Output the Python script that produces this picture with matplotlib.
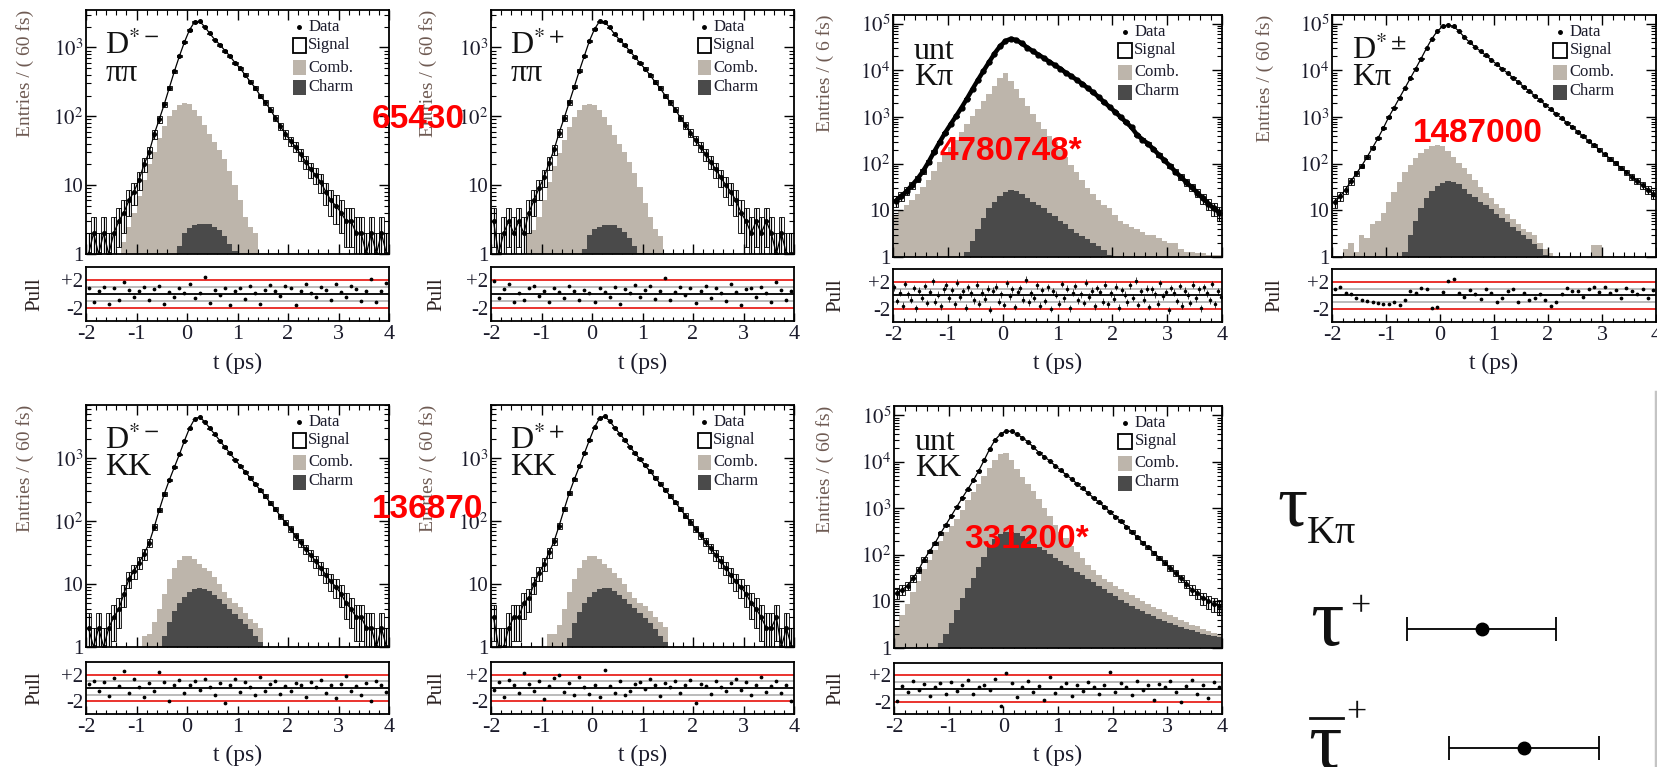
import numpy as np
import matplotlib
matplotlib.use('Agg')
from matplotlib import pyplot as plt
from matplotlib.lines import Line2D
from matplotlib.patches import Rectangle
from matplotlib.ticker import MultipleLocator, LogLocator, NullFormatter

plt.rcParams['font.family'] = ['Liberation Serif', 'DejaVu Serif']
plt.rcParams['mathtext.fontset'] = 'stix'

W, H = 1657, 767
COMB = '#bdb5ab'
CHARM = '#4a4a4a'
TXT = '#1c1c2c'
RED = '#e8231e'

# 60 bins of 0.1 ps between -2 and 4 ps
edges = np.linspace(-2, 4, 61)
mid = 0.5 * (edges[1:] + edges[:-1])

# ---- D*- pipi
dm_pipi_data = [1, 2, 1, 2, 1, 2, 3, 4, 6, 8,
                12, 20, 30, 55, 90, 150, 260, 450, 750, 1200,
                1800, 2350, 2400, 2000, 1600, 1300, 1100, 900, 750, 600,
                500, 400, 320, 260, 200, 160, 125, 95, 72, 55,
                44, 36, 28, 22, 17, 14, 11, 8, 6, 5,
                4, 3, 3, 2, 2, 1, 2, 1, 2, 1]
dm_pipi_comb = [0, 0, 0, 0, 0, 0, 0, 1.5, 2.5, 4,
                7, 12, 20, 30, 48, 72, 100, 125, 145, 155,
                150, 125, 100, 75, 55, 42, 32, 24, 16, 10,
                6, 3.5, 2.5, 2, 0, 0, 0, 0, 0, 0,
                0, 0, 0, 0, 0, 0, 0, 0, 0, 0,
                0, 0, 0, 0, 0, 0, 0, 0, 0, 0]
dm_pipi_charm = [0, 0, 0, 0, 0, 0, 0, 0, 0, 0,
                 0, 0, 0, 0, 0, 0, 0, 0, 1.3, 2.0,
                 2.4, 2.6, 2.7, 2.7, 2.7, 2.5, 2.2, 1.8, 1.4, 1.1,
                 0, 0, 0, 0, 0, 0, 0, 0, 0, 0,
                 0, 0, 0, 0, 0, 0, 0, 0, 0, 0,
                 0, 0, 0, 0, 0, 0, 0, 0, 0, 0]
dm_pipi_pull = [0.8, -1.2, 0.5, 1.0, -1.5, 0.9, -0.8, 1.8, 0.6, -0.5,
                0.4, 1.0, -0.9, 0.7, 1.2, -1.5, 0.3, -0.4, 0.9, 0.2,
                1.5, -0.6, 0.1, 2.4, -1.3, 0.6, -0.2, 0.9, -1.6, 0.4,
                0.8, -0.7, 1.1, 0.2, -1.4, 0.6, 1.3, 0.5, -0.3, 1.2,
                0.8, -1.6, 0.4, 1.5, 0.2, -0.5, 1.0, 0.6, -0.9, 1.4,
                0.3, -0.4, 1.1, 0.7, -1.0, 0.5, 2.1, -1.2, 0.4, 1.6]

# ---- D*+ pipi
dp_pipi_data = [3, 1, 2, 3, 2, 3, 2, 4, 6, 9,
                13, 21, 33, 58, 95, 160, 270, 460, 760, 1250,
                1850, 2400, 2350, 1950, 1550, 1280, 1080, 880, 730, 590,
                490, 395, 315, 255, 200, 160, 125, 96, 74, 57,
                45, 36, 28, 22, 17, 13, 10, 8, 6, 4,
                3, 2, 3, 2, 3, 2, 1, 2, 1, 1]
dp_pipi_comb = [0, 0, 0, 0, 0, 0, 0, 2, 2.2, 3.5,
                6, 11, 19, 29, 46, 70, 98, 124, 146, 152,
                148, 124, 98, 74, 54, 40, 30, 22, 15, 9.5,
                5.5, 3.5, 2.3, 1.8, 0, 0, 0, 0, 0, 0,
                0, 0, 0, 0, 0, 0, 0, 0, 0, 0,
                0, 0, 0, 0, 0, 0, 0, 0, 0, 0]
dp_pipi_charm = [0, 0, 0, 0, 0, 0, 0, 0, 0, 0,
                 0, 0, 0, 0, 0, 0, 0, 0, 1.2, 1.9,
                 2.3, 2.5, 2.6, 2.6, 2.6, 2.4, 2.1, 1.7, 1.3, 1.05,
                 0, 0, 0, 0, 0, 0, 0, 0, 0, 0,
                 0, 0, 0, 0, 0, 0, 0, 0, 0, 0,
                 0, 0, 0, 0, 0, 0, 0, 0, 0, 0]
dp_pipi_pull = [1.9, -0.6, 0.7, 1.4, -1.1, 0.2, -0.9, 0.8, 1.2, -0.3,
                0.5, -1.2, 0.9, 0.3, -0.6, 1.1, 0.4, -0.8, 0.6, 0.2,
                -1.1, 0.9, 0.3, -0.5, 1.0, -1.4, 0.7, 0.2, 1.3, -0.4,
                0.6, 1.1, -0.7, 0.4, 2.3, -0.9, 0.3, 1.0, -0.2, 0.8,
                -1.3, 0.5, 1.2, -0.6, 0.9, 0.1, -1.0, 1.4, 0.3, -1.6,
                0.7, 0.9, -0.5, 1.0, 0.2, -1.2, 1.8, 0.6, -0.8, 0.4]

# ---- untagged Kpi
unt_kpi_data = [16, 20, 26, 35, 48, 70, 110, 180, 290, 460,
                700, 1050, 1600, 2500, 4000, 6300, 9800, 15000, 23000, 33000,
                43000, 48000, 45000, 38000, 31000, 26000, 22000, 18500, 15500, 13000,
                11000, 9000, 7600, 6300, 5200, 4200, 3400, 2700, 2100, 1650,
                1300, 1000, 780, 600, 420, 330, 270, 205, 155, 118,
                90, 68, 52, 40, 31, 24, 18, 14, 11, 9]
unt_kpi_comb = [8, 10, 13, 17, 23, 32, 45, 70, 110, 160,
                230, 330, 480, 700, 1050, 1500, 2200, 3200, 4700, 7000,
                8800, 6000, 4000, 2600, 1700, 1150, 800, 560, 400, 290,
                200, 140, 95, 65, 45, 30, 22, 17, 13, 11,
                8, 6, 5, 4.5, 4, 3.5, 3, 3, 2.5, 2.2,
                2, 2, 1.5, 1.3, 1.3, 1.2, 1.2, 1.1, 1.1, 1.1]
unt_kpi_charm = [0, 0, 0, 0, 0, 0, 0, 0, 0, 0,
                 0, 0, 0, 1.3, 2.2, 4, 7, 11, 15, 20,
                 25, 27, 26, 22, 18, 15, 13, 11, 9, 7.5,
                 6, 5, 4, 3.3, 2.8, 2.4, 2, 1.7, 1.4, 1.1,
                 0, 0, 0, 0, 0, 0, 0, 0, 0, 0,
                 0, 0, 0, 0, 0, 0, 0, 0, 0, 0]
unt_kpi_pull = [1.2, -0.8, 0.4, -1.5, 1.7, 0.2, -0.6, 1.1, -1.9, 0.7,
                -0.3, 1.4, -1.1, 0.5, 2.1, -0.9, 0.1, -1.6, 0.9, 1.5,
                -0.4, 0.8, -1.3, 1.9, -0.2, 0.6, -1.8, 1.2, 0.3, -0.7,
                1.6, -1.2, 0.4, -0.5, 1.0, -2.1, 0.7, 1.3, -0.9, 0.2,
                -1.4, 1.8, -0.1, 0.9, -1.7, 0.5, 1.1, -0.6, 2.3, -1.0,
                0.3, -0.3, 1.5, -1.5, 0.8, -0.8, 1.2, -2.0, 0.6, 0.1,
                -1.2, 1.7, -0.4, 1.0, -1.9, 0.4, 1.4, -0.7, 0.2, -1.1,
                1.9, -0.2, 0.7, -1.6, 1.1, 0.5, -0.9, 1.6, -1.3, 0.3,
                -0.5, 1.3, -1.8, 0.8, 0.1, -1.0, 1.5, -0.3, 2.2, -1.4,
                0.6, -0.6, 1.0, -1.7, 0.9, 0.2, -1.2, 1.8, -0.1, 0.5,
                -2.2, 1.1, 0.4, -0.8, 1.4, -1.5, 0.7, 0.0, -1.1, 1.6,
                -0.4, 0.9, -1.9, 1.2, 0.3, -0.7, 1.7, -1.3, 0.6, -0.2]

# ---- D*+- Kpi
dpm_kpi_data = [15, 20, 28, 42, 62, 90, 140, 220, 350, 580,
                1000, 1600, 2600, 4200, 6800, 11000, 18000, 30000, 48000, 70000,
                88000, 96000, 88000, 70000, 52000, 40000, 32000, 26000, 21000, 17000,
                13500, 11000, 8800, 7000, 5600, 4500, 3600, 2900, 2300, 1850,
                1480, 1180, 950, 760, 610, 490, 390, 310, 250, 200,
                160, 128, 102, 82, 66, 53, 43, 35, 28, 22]
dpm_kpi_comb = [0, 0, 1.5, 2, 1.3, 3, 2.5, 5, 6, 9,
                15, 25, 40, 65, 95, 130, 170, 210, 240, 255,
                240, 190, 140, 105, 80, 60, 45, 32, 24, 18,
                14, 11, 8.5, 6.5, 5, 4, 3.5, 3, 2, 1.5,
                1.2, 0, 0, 0, 0, 0, 0, 0, 1.8, 1.8,
                0, 0, 0, 0, 0, 0, 0, 0, 0, 0]
dpm_kpi_charm = [0, 0, 0, 0, 0, 0, 0, 0, 0, 0,
                 0, 0, 0, 1.3, 3, 6, 11, 18, 26, 33,
                 39, 42, 41, 36, 29, 23, 19, 15.5, 13, 10.5,
                 8.5, 7, 5.5, 4.5, 3.7, 3, 2.4, 1.9, 1.5, 1.1,
                 0, 0, 0, 0, 0, 0, 0, 0, 0, 0,
                 0, 0, 0, 0, 0, 0, 0, 0, 0, 0]
dpm_kpi_pull = [1.0, 1.2, 0.4, 0.2, -0.3, -0.6, -0.8, -1.0, -1.1, -1.3,
                -1.2, -0.9, -1.4, -0.7, 0.6, 0.4, 1.1, 0.9, -1.8, -1.7,
                0.5, 2.2, 2.4, 0.3, -0.2, 0.8, 0.2, -0.5, 0.9, 0.4,
                -0.9, -0.4, 0.6, 1.0, -1.0, 0.3, -0.6, -0.3, 0.2, -0.7,
                -1.6, -0.9, 0.2, 1.1, 0.6, 0.7, -0.2, 0.9, 1.3, 0.5,
                1.2, 0.3, 0.8, -0.3, 1.1, 0.6, 0.2, 1.0, -0.4, 0.8]

# ---- D*- KK
dm_kk_data = [2, 1, 2, 1, 2, 3, 4, 7, 12, 16,
              22, 30, 45, 80, 150, 270, 450, 720, 1150, 1900,
              3000, 4200, 4500, 3800, 3000, 2400, 1900, 1500, 1200, 950,
              760, 610, 490, 390, 310, 250, 195, 155, 120, 95,
              75, 58, 46, 36, 29, 23, 18, 14, 11, 9,
              7, 5, 4, 3, 3, 2, 2, 1, 2, 1]
dm_kk_comb = [0, 0, 0, 0, 0, 0, 0, 0, 0, 0,
              0, 1.5, 1.6, 2.5, 4, 7, 12, 18, 24, 28,
              28, 25, 21, 18, 16, 13, 10, 7.5, 6, 5,
              4.3, 3.5, 2.8, 2.4, 2.0, 0, 0, 0, 0, 0,
              0, 0, 0, 0, 0, 0, 0, 0, 0, 0,
              0, 0, 0, 0, 0, 0, 0, 0, 0, 0]
dm_kk_charm = [0, 0, 0, 0, 0, 0, 0, 0, 0, 0,
               0, 0, 0, 0, 0, 1.5, 2.5, 3.7, 5, 6.3,
               7.5, 8.3, 8.7, 8.5, 7.7, 6.7, 5.7, 4.8, 4, 3.4,
               2.8, 2.3, 1.9, 1.5, 1.2, 0, 0, 0, 0, 0,
               0, 0, 0, 0, 0, 0, 0, 0, 0, 0,
               0, 0, 0, 0, 0, 0, 0, 0, 0, 0]
dm_kk_pull = [0.6, 1.1, -0.4, 0.9, -1.2, 1.5, 0.3, 2.6, -0.7, 1.3,
              0.2, -1.4, 0.8, -0.5, 2.4, 0.9, -1.9, 0.4, 1.2, -0.8,
              0.5, 1.0, -0.3, 1.4, 0.1, -1.1, 0.7, -2.3, 0.4, 1.3,
              -0.6, 0.9, 0.2, -1.0, 1.6, -0.4, 0.6, 1.1, -0.9, 0.3,
              -0.5, 0.8, 0.4, -1.3, 0.9, 0.2, 1.2, -0.7, 0.5, -1.5,
              0.6, 1.8, -0.4, 0.3, -1.1, 0.7, -2.0, 1.0, 0.5, -0.6]

# ---- D*+ KK
dp_kk_data = [3, 1, 1, 2, 3, 3, 5, 6, 10, 15,
              21, 32, 48, 85, 155, 280, 460, 740, 1200, 1950,
              3100, 4300, 4600, 3900, 3050, 2450, 1950, 1520, 1210, 960,
              770, 615, 490, 395, 315, 250, 198, 157, 122, 97,
              76, 60, 47, 37, 29, 23, 18, 14, 11, 9,
              7, 5, 4, 3, 2, 2, 3, 1, 2, 1]
dp_kk_comb = [0, 0, 0, 0, 0, 0, 0, 0, 0, 0,
              0, 1.6, 1.6, 2.2, 4, 7.5, 12, 18, 24, 28,
              28, 25, 21, 18, 15, 12.5, 10, 7.5, 6, 5,
              4.5, 3.8, 3, 2.5, 2.1, 0, 0, 0, 0, 0,
              0, 0, 0, 0, 0, 0, 0, 0, 0, 0,
              0, 0, 0, 0, 0, 0, 0, 0, 0, 0]
dp_kk_charm = [0, 0, 0, 0, 0, 0, 0, 0, 0, 0,
               0, 0, 0, 0, 0, 1.4, 2.4, 3.6, 5, 6.3,
               7.5, 8.4, 8.8, 8.6, 7.8, 6.8, 5.8, 4.9, 4.1, 3.5,
               2.9, 2.4, 1.9, 1.5, 1.2, 0, 0, 0, 0, 0,
               0, 0, 0, 0, 0, 0, 0, 0, 0, 0,
               0, 0, 0, 0, 0, 0, 0, 0, 0, 0]
dp_kk_pull = [-0.3, 0.9, -1.3, 1.2, 0.4, -0.8, 2.3, 0.6, -0.4, 1.0,
              -1.7, 0.3, 1.5, 2.0, -0.6, 0.8, -1.1, 1.7, 0.2, -0.9,
              0.5, -1.4, 2.7, 0.3, -0.7, 1.1, -1.0, -0.4, 0.6, 0.9,
              -0.2, 1.3, 0.4, -1.2, 0.7, 0.1, 1.0, -0.8, 0.5, 1.2,
              -2.2, 0.6, 0.3, -0.9, 1.1, 0.2, -0.5, 0.8, 1.4, -0.3,
              0.9, -1.1, 0.4, 1.6, -0.6, 0.3, 1.0, -0.8, 0.5, -1.9]

# ---- untagged KK
unt_kk_data = [15, 18, 22, 32, 48, 80, 120, 180, 290, 450,
               700, 1100, 1700, 2600, 4000, 6500, 11000, 19000, 30000, 40000,
               46000, 46000, 40000, 33000, 27000, 21000, 16000, 13000, 10500, 8300,
               6600, 5300, 4300, 3400, 2700, 2150, 1700, 1350, 1080, 850,
               670, 530, 410, 320, 240, 185, 145, 112, 88, 68,
               53, 41, 32, 24, 18, 15, 12, 10, 9, 8]
unt_kk_comb = [3, 5, 9, 16, 28, 50, 80, 130, 200, 310,
               420, 600, 950, 1500, 2300, 3400, 5000, 7500, 11000, 15000,
               15500, 11000, 7000, 4800, 3300, 2400, 1600, 1000, 700, 450,
               320, 230, 160, 115, 85, 62, 48, 38, 31, 26,
               22, 19, 16, 14, 12, 10.5, 9, 7.8, 6.8, 6,
               5.2, 4.6, 4, 3.6, 3.2, 2.9, 2.6, 2.3, 2.1, 1.9]
unt_kk_charm = [0, 0, 0, 0, 0, 0, 0, 0, 1.3, 2,
                3.5, 6.5, 12, 20, 32, 55, 90, 150, 220, 280,
                310, 315, 290, 250, 210, 175, 150, 125, 105, 88,
                74, 62, 52, 44, 37, 31, 26, 22, 18.5, 15.5,
                13, 11, 9.5, 8.2, 7, 6.2, 5.5, 4.9, 4.3, 3.9,
                3.5, 3.1, 2.8, 2.6, 2.4, 2.2, 2.0, 1.9, 1.8, 1.7]
unt_kk_pull = [-1.9, 0.4, -0.6, 1.1, -0.3, 0.7, -1.2, 0.2, 0.9, -0.8,
               1.0, -0.4, 0.5, 1.3, -0.9, 0.3, 0.6, -0.2, 1.5, -2.6,
               2.4, 0.8, -1.3, 0.2, 1.2, -0.5, 0.4, -1.8, 1.7, -0.7,
               0.3, 0.9, -1.1, 0.5, -0.4, 1.0, 0.2, -0.9, 0.6, 2.5,
               -0.6, 0.8, 0.3, -1.0, 1.1, -0.3, 0.5, -1.7, 0.7, 0.2,
               1.2, -0.5, -2.0, 0.4, 1.3, -0.8, 0.6, -1.4, 1.0, 0.3]

# lifetime summary (fs)
tau_names = ['tau+', 'taubar+']
tau_vals = [410.32, 410.72]
tau_errs = [0.715, 0.72]

# red yields written over the figure
yield_texts = ['65430', '4780748*', '1487000', '136870', '331200*']


fig = plt.figure(figsize=(W / 100, H / 100), dpi=100)


def box(x0, y0, x1, y1):
    return [x0 / W, 1 - y1 / H, (x1 - x0) / W, (y1 - y0) / H]


def legend(ax):
    tr = ax.transAxes
    ax.plot([0.704], [0.93], 'k.', ms=5, transform=tr)
    ax.add_patch(Rectangle((0.683, 0.823), 0.043, 0.062, fill=False, ec='k', lw=1.3, transform=tr))
    ax.add_patch(Rectangle((0.683, 0.733), 0.043, 0.062, fc=COMB, ec='none', transform=tr))
    ax.add_patch(Rectangle((0.683, 0.650), 0.043, 0.062, fc=CHARM, ec='none', transform=tr))
    for lab, y in zip(['Data', 'Signal', 'Comb.', 'Charm'], [0.93, 0.857, 0.764, 0.684]):
        ax.text(0.733, y, lab, fontsize=12, va='center', color=TXT, transform=tr)


def panel(main, pull_box, name1, name2, data, comb, charm, pull, ytop, thick=False):
    ax = fig.add_axes(box(*main))
    ax.set_yscale('log')
    ax.stairs(np.clip(comb, 1e-2, None), edges, fill=True, color=COMB, baseline=1e-2, zorder=1)
    ax.stairs(np.clip(charm, 1e-2, None), edges, fill=True, color=CHARM, baseline=1e-2, zorder=2)

    d = np.asarray(data, float)
    err = np.sqrt(d)
    lo = np.maximum(d - err, 0.3)
    hi = d + err
    ax.bar(mid, hi - lo, bottom=lo, width=0.1, fill=False, edgecolor='k', linewidth=0.6, zorder=3)
    ax.plot(mid, d, color='k', lw=3.2 if thick else 0.9, zorder=4)
    ax.errorbar(mid, d, yerr=[d - lo, err], fmt='o', ms=3.5 if thick else 2.6, color='k',
                elinewidth=0.9, capsize=0, zorder=5)

    ax.set_xlim(-2, 4)
    ax.set_ylim(1, ytop)
    ax.xaxis.set_major_locator(MultipleLocator(1))
    ax.xaxis.set_minor_locator(MultipleLocator(0.2))
    decs = [10 ** k for k in range(0, 6) if 10 ** k <= ytop]
    labs = ['1', '10'] + ['$10^{%d}$' % k for k in range(2, len(decs))]
    ax.set_yticks(decs)
    ax.set_yticklabels(labs[:len(decs)], fontsize=15, color=TXT)
    ax.yaxis.set_minor_locator(LogLocator(base=10, subs=np.arange(2, 10)))
    ax.yaxis.set_minor_formatter(NullFormatter())
    ax.tick_params(which='both', direction='in', top=True, right=True, labelbottom=False, pad=2)
    ax.tick_params(which='major', length=7, width=1)
    ax.tick_params(which='minor', length=3.5, width=0.8)
    for s in ax.spines.values():
        s.set_linewidth(1.3)

    ax.text(0.063, 0.82, name1, fontsize=23, color='#111', transform=ax.transAxes)
    ax.text(0.063, 0.71, name2, fontsize=23, color='#111', transform=ax.transAxes)
    legend(ax)

    axp = fig.add_axes(box(*pull_box))
    axp.axhline(2, color=RED, lw=1.3)
    axp.axhline(-2, color=RED, lw=1.3)
    axp.axhline(1, color='#a8a8a8', lw=1.1)
    axp.axhline(-1, color='#a8a8a8', lw=1.1)
    axp.axhline(0, color='k', lw=1.3)
    pe = np.linspace(-2, 4, len(pull) + 1)
    xp = 0.5 * (pe[1:] + pe[:-1])
    if thick:
        axp.errorbar(xp, pull, yerr=0.5, fmt='.', ms=3, color='k', elinewidth=0.5, capsize=0)
    else:
        axp.plot(xp, pull, 'k.', ms=3.4)
    axp.set_xlim(-2, 4)
    axp.set_ylim(-3.9, 3.9)
    axp.xaxis.set_minor_locator(MultipleLocator(0.2))
    axp.set_xticks(np.arange(-2, 5))
    axp.set_xticklabels([str(v) for v in range(-2, 5)], fontsize=16, color=TXT)
    axp.set_yticks([-2, 2])
    axp.set_yticklabels(['-2', '+2'], fontsize=15, color=TXT)
    axp.tick_params(axis='x', which='both', direction='in', top=False, pad=3)
    axp.tick_params(axis='x', which='major', length=6, width=1)
    axp.tick_params(axis='x', which='minor', length=3, width=0.8)
    axp.tick_params(axis='y', length=0, pad=2)
    for s in axp.spines.values():
        s.set_linewidth(1.3)
    return ax, axp


specs = [
    ((86, 10, 389, 254), (86, 267, 389, 321), 'D$^{*-}$', 'ππ',
     dm_pipi_data, dm_pipi_comb, dm_pipi_charm, dm_pipi_pull, 3500, False),
    ((491, 10, 794, 254), (491, 267, 794, 321), 'D$^{*+}$', 'ππ',
     dp_pipi_data, dp_pipi_comb, dp_pipi_charm, dp_pipi_pull, 3500, False),
    ((893, 15, 1222, 257), (893, 269, 1222, 322), 'unt', 'Kπ',
     unt_kpi_data, unt_kpi_comb, unt_kpi_charm, unt_kpi_pull, 155000, True),
    ((1332, 15, 1656, 257), (1332, 269, 1656, 322), r'D$^{*\pm}$', 'Kπ',
     dpm_kpi_data, dpm_kpi_comb, dpm_kpi_charm, dpm_kpi_pull, 155000, False),
    ((86, 405, 389, 647), (86, 662, 389, 714), 'D$^{*-}$', 'KK',
     dm_kk_data, dm_kk_comb, dm_kk_charm, dm_kk_pull, 7000, False),
    ((491, 405, 794, 647), (491, 662, 794, 714), 'D$^{*+}$', 'KK',
     dp_kk_data, dp_kk_comb, dp_kk_charm, dp_kk_pull, 7000, False),
    ((894, 406, 1222, 648), (894, 663, 1222, 714), 'unt', 'KK',
     unt_kk_data, unt_kk_comb, unt_kk_charm, unt_kk_pull, 160000, False),
]

ylab_x = [25, 428, 825, 1265, 25, 428, 825]
pull_x = [35, 437, 836, 1275, 35, 437, 836]
bin_txt = ['60', '60', '6', '60', '60', '60', '60']

for i, sp in enumerate(specs):
    ax, axp = panel(*sp)
    main, pbox = sp[0], sp[1]
    fig.text(ylab_x[i] / W, 1 - (main[1]) / H, 'Entries / ( %s fs)' % bin_txt[i], rotation=90,
             ha='center', va='top', fontsize=14, color='#6e5a52')
    fig.text(pull_x[i] / W, 1 - 0.5 * (pbox[1] + pbox[3]) / H, 'Pull', rotation=90,
             ha='center', va='center', fontsize=15, color='#2a2020')
    ty = 363 if main[1] < 300 else 755
    fig.text(0.5 * (main[0] + main[2]) / W, 1 - ty / H, 't (ps)', ha='center', va='center',
             fontsize=17, color=TXT)

# red yields
yield_pos = [(372, 120), (940, 151), (1413, 133), (372, 510), (964, 540)]
for txt, (x, y) in zip(yield_texts, yield_pos):
    fig.text(x / W, 1 - y / H, txt, ha='left', va='center', fontsize=24, fontweight='bold',
             color='#ff0000', family='Liberation Sans', zorder=20)

# lifetime comparison corner
axt = fig.add_axes(box(1240, 380, 1657, 767))
axt.set_axis_off()
axt.set_xlim(408, 412)
axt.set_ylim(-0.16, 3.09)
axt.errorbar(tau_vals, [1, 0], xerr=tau_errs, fmt='o', color='k', ms=9, capsize=8.6,
             elinewidth=1.3, capthick=1.3)

fig.text(1277 / W, 1 - 525 / H, 'τ', fontsize=54, color='#111')
fig.text(1307 / W, 1 - 543 / H, 'Kπ', fontsize=29, color='#111')
fig.text(1310 / W, 1 - 645 / H, 'τ', fontsize=60, color='#111')
fig.text(1350 / W, 1 - 608 / H, '+', fontsize=26, va='center', color='#111')
fig.text(1308 / W, 1 - 768 / H, 'τ', fontsize=60, color='#111')
fig.text(1346 / W, 1 - 714 / H, '+', fontsize=26, va='center', color='#111')
fig.add_artist(Line2D([1310 / W, 1343 / W], [1 - 718 / H, 1 - 718 / H], color='#111', lw=2))
fig.add_artist(Line2D([1656 / W, 1656 / W], [0, 1 - 392 / H], color='#c4c4c4', lw=2.5))

fig.savefig('out.png', dpi=100)
